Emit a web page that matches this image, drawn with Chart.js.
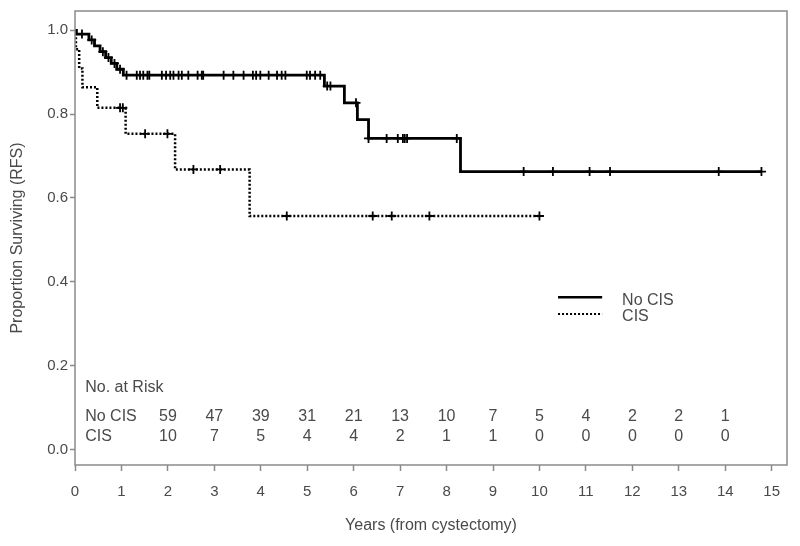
<!DOCTYPE html>
<html><head><meta charset="utf-8">
<script src="https://cdn.jsdelivr.net/npm/chart.js@4.4.1/dist/chart.umd.min.js"></script>
<style>html,body{margin:0;padding:0;background:#fff;} #wrap{width:800px;height:546px;position:relative;}</style>
</head><body><div id="wrap"><canvas id="c" width="800" height="546"></canvas></div>
<script>
// ---- Data ----
const seriesNames = ["No CIS", "CIS"];
const noCisEventTimes = [0, 0.03, 0.30, 0.42, 0.54, 0.66, 0.78, 0.90, 1.04, 5.37, 5.80, 6.08, 6.32, 8.30];
const noCisSurvival   = [1.0, 0.991, 0.977, 0.963, 0.949, 0.935, 0.921, 0.907, 0.893, 0.867, 0.827, 0.787, 0.742, 0.663];
const noCisCensorTimes = [0.15, 0.36, 0.60, 0.72, 0.85, 0.97, 1.11, 1.33, 1.40, 1.47, 1.56, 1.60, 1.87, 1.96, 2.05, 2.12,
  2.23, 2.30, 2.44, 2.64, 2.73, 2.76, 3.20, 3.41, 3.63, 3.83, 3.90, 3.99, 4.17, 4.35, 4.45, 4.53, 4.99, 5.06, 5.17, 5.28,
  5.43, 5.50, 6.05, 6.32, 6.71, 6.95, 7.06, 7.10, 7.15, 8.22, 9.66, 10.29, 11.08, 11.52, 13.86, 14.78];
const cisEventTimes = [0, 0.02, 0.09, 0.16, 0.48, 1.09, 2.155, 3.76];
const cisSurvival   = [1.0, 0.955, 0.909, 0.864, 0.815, 0.753, 0.668, 0.557];
const cisCensorTimes = [0.97, 1.03, 1.51, 1.99, 2.55, 3.125, 4.56, 6.41, 6.82, 7.63, 10.0];

const xTickValues = [0,1,2,3,4,5,6,7,8,9,10,11,12,13,14,15];
const yTickValues = [0.0, 0.2, 0.4, 0.6, 0.8, 1.0];

const riskYears = [2,3,4,5,6,7,8,9,10,11,12,13,14];
const riskNoCis = [59,47,39,31,21,13,10,7,5,4,2,2,1];
const riskCis   = [10,7,5,4,4,2,1,1,0,0,0,0,0];

// ---- helpers ----
function survivalAt(times, surv, t) {
  let s = surv[0];
  for (let i = 0; i < times.length; i++) { if (times[i] <= t) s = surv[i]; }
  return s;
}
function curve(times, surv, censors) {
  const pts = times.map((t, i) => ({x: t, y: surv[i]}));
  const last = censors[censors.length - 1];
  pts.push({x: last, y: survivalAt(times, surv, last)});
  return pts;
}
function marks(times, surv, censors) {
  return censors.map(t => ({x: t, y: survivalAt(times, surv, t)}));
}

const FONT = "'Liberation Sans', Arial, sans-serif";
const TXT = '#4a4a4a';
const FRAME = '#8a8a8a';

const framePlugin = {
  id: 'framePlugin',
  afterDraw(chart) {
    const {ctx, chartArea: a, scales} = chart;
    const xs = scales.x, ys = scales.y;
    ctx.save();
    ctx.strokeStyle = FRAME;
    ctx.lineWidth = 1.5;
    ctx.strokeRect(a.left, a.top, a.right - a.left, a.bottom - a.top);

    // risk table
    ctx.fillStyle = TXT;
    ctx.font = '16px ' + FONT;
    ctx.textBaseline = 'middle';
    ctx.textAlign = 'left';
    const yHead = ys.getPixelForValue(0.148);
    const yRow1 = ys.getPixelForValue(0.079);
    const yRow2 = ys.getPixelForValue(0.030);
    const labX = xs.getPixelForValue(0.22);
    ctx.fillText('No. at Risk', labX, yHead);
    ctx.fillText(seriesNames[0], labX, yRow1);
    ctx.fillText(seriesNames[1], labX, yRow2);
    ctx.textAlign = 'center';
    riskYears.forEach((yr, i) => {
      const px = xs.getPixelForValue(yr);
      ctx.fillText(String(riskNoCis[i]), px, yRow1);
      ctx.fillText(String(riskCis[i]), px, yRow2);
    });

    // legend
    const lx0 = xs.getPixelForValue(10.4), lx1 = xs.getPixelForValue(11.35);
    const ly1 = ys.getPixelForValue(0.363), ly2 = ys.getPixelForValue(0.323);
    ctx.strokeStyle = '#000';
    ctx.lineWidth = 2.5;
    ctx.setLineDash([]);
    ctx.beginPath(); ctx.moveTo(lx0, ly1); ctx.lineTo(lx1, ly1); ctx.stroke();
    ctx.lineWidth = 2;
    ctx.setLineDash([2, 2]);
    ctx.beginPath(); ctx.moveTo(lx0, ly2); ctx.lineTo(lx1, ly2); ctx.stroke();
    ctx.setLineDash([]);
    ctx.textAlign = 'left';
    const tx = xs.getPixelForValue(11.78);
    ctx.fillText(seriesNames[0], tx, ly1 + 3);
    ctx.fillText(seriesNames[1], tx, ly2 + 3);
    ctx.restore();
  }
};

new Chart(document.getElementById('c'), {
  type: 'line',
  data: {
    datasets: [
      { label: seriesNames[0], data: curve(noCisEventTimes, noCisSurvival, noCisCensorTimes),
        borderColor: '#000', borderWidth: 2.8, stepped: 'before', pointRadius: 0, fill: false },
      { label: seriesNames[1], data: curve(cisEventTimes, cisSurvival, cisCensorTimes),
        borderColor: '#000', borderWidth: 2.5, borderDash: [2, 2], stepped: 'before', pointRadius: 0, fill: false },
      { label: seriesNames[0] + ' censored', data: marks(noCisEventTimes, noCisSurvival, noCisCensorTimes),
        showLine: false, pointStyle: 'cross', pointRadius: 4.5, pointBorderWidth: 1.8,
        pointBorderColor: '#000', pointBackgroundColor: '#000' },
      { label: seriesNames[1] + ' censored', data: marks(cisEventTimes, cisSurvival, cisCensorTimes),
        showLine: false, pointStyle: 'cross', pointRadius: 4.5, pointBorderWidth: 1.8,
        pointBorderColor: '#000', pointBackgroundColor: '#000' }
    ]
  },
  options: {
    responsive: false,
    animation: false,
    events: [],
    layout: { padding: { top: 9, right: 13, left: 0, bottom: 0 } },
    plugins: { legend: { display: false }, tooltip: { enabled: false } },
    scales: {
      x: {
        type: 'linear', min: 0, max: 15.33,
        afterBuildTicks: s => { s.ticks = xTickValues.map(v => ({value: v})); },
        afterFit: s => { s.height = 81; },
        grid: { drawOnChartArea: false, drawTicks: true, tickLength: 6, color: FRAME, tickColor: FRAME, tickWidth: 1.5 },
        border: { display: false },
        ticks: { color: TXT, font: { family: FONT, size: 15 }, padding: 12, maxRotation: 0, autoSkip: false,
          callback: v => String(v) },
        title: { display: true, text: 'Years (from cystectomy)', color: TXT, font: { family: FONT, size: 16 },
          padding: { top: 0, bottom: 11 } }
      },
      y: {
        type: 'linear', min: -0.037, max: 1.046,
        afterBuildTicks: s => { s.ticks = yTickValues.map(v => ({value: v})); },
        afterFit: s => { s.width = 75; },
        grid: { drawOnChartArea: false, drawTicks: true, tickLength: 5, color: FRAME, tickColor: FRAME, tickWidth: 1.5 },
        border: { display: false },
        ticks: { color: TXT, font: { family: FONT, size: 15 }, padding: 2, callback: v => Number(v).toFixed(1) },
        title: { display: true, text: 'Proportion Surviving (RFS)', color: TXT, font: { family: FONT, size: 16 },
          align: 'center', padding: { top: 8, bottom: 0 } }
      }
    }
  },
  plugins: [framePlugin]
});
</script>
</body></html>
